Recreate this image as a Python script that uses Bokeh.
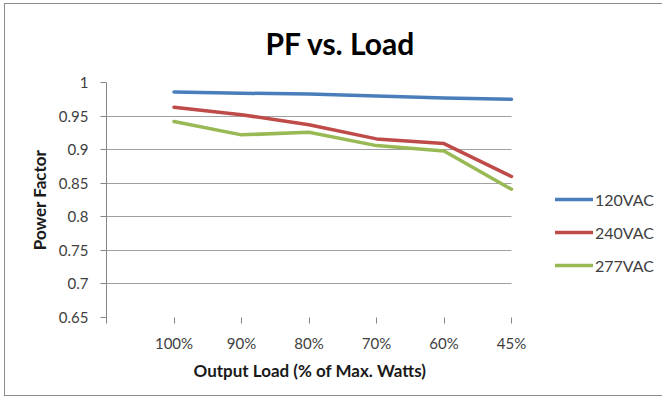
from bokeh.plotting import figure
from bokeh.models import Range1d, FixedTicker, Legend, LegendItem, Title, BoxAnnotation
from bokeh.embed import file_html
from bokeh.resources import INLINE

# ---- data ----
categories = ["100%", "90%", "80%", "70%", "60%", "45%"]
pf_120 = [0.986, 0.984, 0.983, 0.980, 0.977, 0.975]
pf_240 = [0.963, 0.952, 0.937, 0.916, 0.909, 0.860]
pf_277 = [0.942, 0.922, 0.926, 0.906, 0.898, 0.841]
series_names = ["120VAC", "240VAC", "277VAC"]
y_ticks = [0.65, 0.70, 0.75, 0.80, 0.85, 0.90, 0.95, 1.00]
y_tick_labels = ["0.65", "0.7", "0.75", "0.8", "0.85", "0.9", "0.95", "1"]

colors = ["#4a7ebb", "#be4b48", "#98b954"]
FONT = "Lato"
TXT = "#404040"
BORDER = "#8c8c8c"

W, H = 662, 396
LEFT, TOP, BOTTOM = 106, 81, 79
PLOT_W = 405            # width of the plotted category area in px
FRAME_W = W - LEFT      # frame extends right to host the legend

n = len(categories)
xs = list(range(1, n + 1))
x_ticks = [0] + xs
x_end = n * FRAME_W / PLOT_W

p = figure(width=W, height=H, output_backend="svg", toolbar_location=None,
           x_range=Range1d(0, x_end), y_range=Range1d(0.65, 1.0),
           min_border_left=LEFT, min_border_right=0, min_border_top=TOP,
           min_border_bottom=BOTTOM)
grad = f"linear-gradient({BORDER},{BORDER})"
p.styles = {
    "background-image": f"{grad}, {grad}, {grad}",
    "background-size": "1px 400px, 670px 1px, 670px 1px",
    "background-position": "4px 3px, 4px 3px, 4px 395px",
    "background-repeat": "no-repeat",
}
p.outline_line_color = None
p.background_fill_color = "white"
p.border_fill_alpha = 0

p.title.text = "PF vs. Load"
p.title.align = "left"
p.title.offset = 159
p.title.standoff = 44
p.title.text_font = FONT
p.title.text_font_size = "30px"
p.title.text_font_style = "bold"
p.title.text_color = "#000000"

# x axis
p.xaxis.ticker = FixedTicker(ticks=x_ticks)
p.xaxis.major_label_overrides = {0: ""} | {x: c for x, c in zip(xs, categories)}
p.xaxis.axis_line_color = None
p.xaxis.major_tick_line_color = "#868686"
p.xaxis.major_tick_out = 6
p.xaxis.major_tick_in = 0
p.xaxis.minor_tick_line_color = None
p.xaxis.major_label_standoff = 10
p.xaxis.major_label_text_font = FONT
p.xaxis.major_label_text_font_size = "15px"
p.xaxis.major_label_text_color = TXT

xlabel = Title(text="Output Load (% of Max. Watts)", align="left", offset=87, standoff=6,
               text_font=FONT, text_font_size="17px", text_font_style="bold",
               text_color="#1a1a1a")
p.add_layout(xlabel, "below")

# y axis
p.yaxis.ticker = FixedTicker(ticks=y_ticks)
p.yaxis.major_label_overrides = {t: l for t, l in zip(y_ticks, y_tick_labels)}
p.yaxis.axis_line_color = "#868686"
p.yaxis.major_tick_line_color = "#868686"
p.yaxis.major_tick_out = 6
p.yaxis.major_tick_in = 0
p.yaxis.minor_tick_line_color = None
p.yaxis.major_label_standoff = 12
p.yaxis.major_label_text_font = FONT
p.yaxis.major_label_text_font_size = "15px"
p.yaxis.major_label_text_color = TXT
p.yaxis.axis_label = "Power Factor"
p.yaxis.axis_label_text_font = FONT
p.yaxis.axis_label_text_font_size = "17px"
p.yaxis.axis_label_text_font_style = "bold"
p.yaxis.axis_label_text_color = "#1a1a1a"
p.yaxis.axis_label_standoff = 6

p.xgrid.grid_line_color = None
p.ygrid.ticker = FixedTicker(ticks=y_ticks[1:])
p.ygrid.grid_line_color = "#a0a0a0"
p.ygrid.grid_line_width = 1

# blank the grid to the right of the last category (legend area)
p.add_layout(BoxAnnotation(left=n, fill_color="white", fill_alpha=1.0,
                           line_color=None, level="underlay"))

renderers = []
for vals, c in zip([pf_120, pf_240, pf_277], colors):
    r = p.line(xs, vals, line_color=c, line_width=3.5, line_join="round", line_cap="round")
    renderers.append(r)

legend = Legend(items=[LegendItem(label=s, renderers=[r]) for s, r in zip(series_names, renderers)],
                location=(449, 42), orientation="vertical",
                border_line_color=None, background_fill_alpha=0,
                glyph_width=38, glyph_height=20, label_height=20, spacing=13,
                padding=0, margin=0, label_standoff=2,
                label_text_font=FONT, label_text_font_size="16px", label_text_color=TXT)
p.add_layout(legend)

open("out.html", "w").write(file_html(p, INLINE))
